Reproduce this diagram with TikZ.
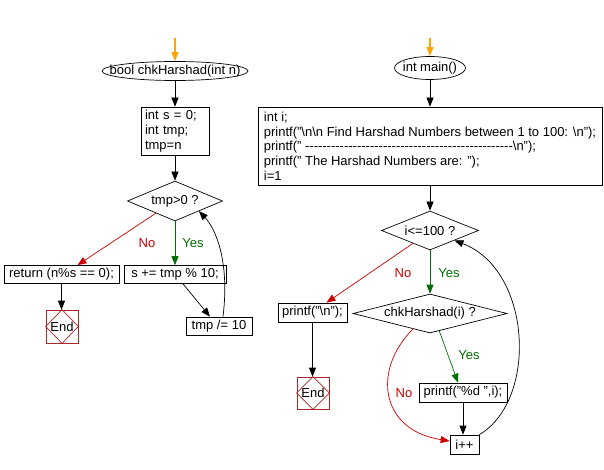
\documentclass[tikz,border=0pt]{standalone}
\usepackage{fontspec}
\setmainfont{Liberation Sans}
\usetikzlibrary{arrows.meta,shapes.geometric,calc}
\definecolor{nored}{RGB}{204,0,0}
\definecolor{yesgreen}{RGB}{0,110,0}
\definecolor{endbrown}{RGB}{170,40,40}
\definecolor{startorange}{RGB}{255,165,0}
\begin{document}
\begin{tikzpicture}[x=1pt,y=-1pt,
  every node/.style={font=\fontsize{13}{14.7}\selectfont},
  line width=0.7pt,
  proc/.style={draw, rectangle, inner sep=0pt},
  term/.style={draw, ellipse, inner sep=0pt},
  dec/.style={draw, diamond, inner sep=0pt},
  endbox/.style={draw=endbrown, rectangle, inner sep=0pt, minimum width=32pt, minimum height=33pt},
  flow/.style={-{Triangle[length=9pt,width=7pt]}},
  noflow/.style={flow, draw=nored},
  yesflow/.style={flow, draw=yesgreen},
  startflow/.style={flow, draw=startorange, line width=1.3pt},
  nolabel/.style={text=nored},
  yeslabel/.style={text=yesgreen}]
\useasboundingbox (0,0) rectangle (604,470);

% ---------- left: chkHarshad ----------
\coordinate (o1) at (175,38);
\node[term, minimum width=146pt, minimum height=19pt] (f1) at (175,71) {\makebox[0pt]{bool chkHarshad(int n)}};
\node[proc, minimum width=68pt, minimum height=48pt, align=left, text width=60pt] (b1) at (175,131) {int s = 0;\\int tmp;\\tmp=n};
\node[dec, minimum width=95pt, minimum height=40pt] (d1) at (175,201) {\makebox[0pt]{tmp>0 ?}};
\node[proc, minimum width=115pt, minimum height=18pt] (ret) at (61.5,274.5) {return (n\%s == 0);};
\node[proc, minimum width=102pt, minimum height=18pt] (sb) at (175,274.5) {s += tmp \% 10;};
\node[endbox] (e1) at (62,326.5) {End};
\draw[endbrown] (e1.north) -- (e1.east) -- (e1.south) -- (e1.west) -- cycle;
\node[proc, minimum width=66pt, minimum height=18pt] (tb) at (219,326) {tmp /= 10};

\draw[startflow] (o1) -- (f1.north);
\draw[flow] (f1.south) -- (b1.north);
\draw[flow] (b1.south) -- (d1.north);
\draw[noflow] ($(d1.west)!0.6!(d1.south)$) -- ($(ret.north)+(16,0)$);
\draw[yesflow] (d1.south) -- (sb.north);
\node[nolabel] (n1) at (147,243) {No};
\node[yeslabel] (y1) at (193,243) {Yes};
\draw[flow] (ret.south) -- (ret.south |- e1.north);
\draw[flow] ($(sb.south)+(8,0)$) -- ($(tb.north)+(-9,0)$);
\draw[flow] ($(tb.north)+(4,0)$) .. controls (230,260) and (215,228) .. (d1.south east);

% ---------- right: main ----------
\coordinate (o2) at (430,38);
\node[term, minimum width=71pt, minimum height=23pt] (m) at (430,68) {\makebox[0pt]{int main()}};
\node[proc, minimum width=344pt, minimum height=78pt, align=left] (b2) at (430,146) {int i;\\printf("\textbackslash n\textbackslash n Find Harshad Numbers between 1 to 100: \textbackslash n");\\printf(" -{}-{}-{}-{}-{}-{}-{}-{}-{}-{}-{}-{}-{}-{}-{}-{}-{}-{}-{}-{}-{}-{}-{}-{}-{}-{}-{}-{}-{}-{}-{}-{}-{}-{}-{}-{}-{}-{}-{}-{}-{}-{}-{}-{}-{}-{}-{}-{}\textbackslash n");\\printf(" The Harshad Numbers are: ");\\i=1};
\node[dec, minimum width=97pt, minimum height=39pt] (d2) at (430,230.5) {\makebox[0pt]{i<=100 ?}};
\node[proc, minimum width=69pt, minimum height=19pt] (p1) at (312.5,312.5) {printf("\textbackslash n");};
\node[dec, minimum width=154pt, minimum height=39pt] (d3) at (430,313.5) {\makebox[0pt]{chkHarshad(i) ?}};
\node[endbox, minimum height=32pt] (e2) at (313,393) {End};
\draw[endbrown] (e2.north) -- (e2.east) -- (e2.south) -- (e2.west) -- cycle;
\node[proc, minimum width=88pt, minimum height=19pt] (p2) at (463,392.5) {printf("\%d ",i);};
\node[proc, minimum width=29pt, minimum height=19pt] (ipp) at (464.5,444.5) {i++};

\draw[startflow] (o2) -- (m.north);
\draw[flow] (m.south) -- (b2.north);
\draw[flow] (b2.south) -- (d2.north);
\draw[noflow] ($(d2.west)!0.65!(d2.south)$) -- ($(p1.north)+(14,0)$);
\draw[yesflow] (d2.south) -- (d3.north);
\node[nolabel] (n2) at (403,273) {No};
\node[yeslabel] (y2) at (449,273) {Yes};
\draw[flow] (p1.south) -- (p1.south |- e2.north);
\draw[yesflow] ($(d3.south)!0.12!(d3.east)$) -- ($(p2.north)+(-5,0)$);
\node[yeslabel] (y3) at (469,355) {Yes};
\draw[flow] (p2.south) -- (p2.south |- ipp.north);
\draw[noflow] ($(d3.south)!0.22!(d3.west)$) .. controls (372,370) and (380,430) .. ($(ipp.west)+(0,-3.5)$);
\node[nolabel] (n3) at (404,393) {No};
\draw[flow] (ipp.north east) .. controls (538,400) and (532,270) .. (d2.south east);
\end{tikzpicture}
\end{document}
